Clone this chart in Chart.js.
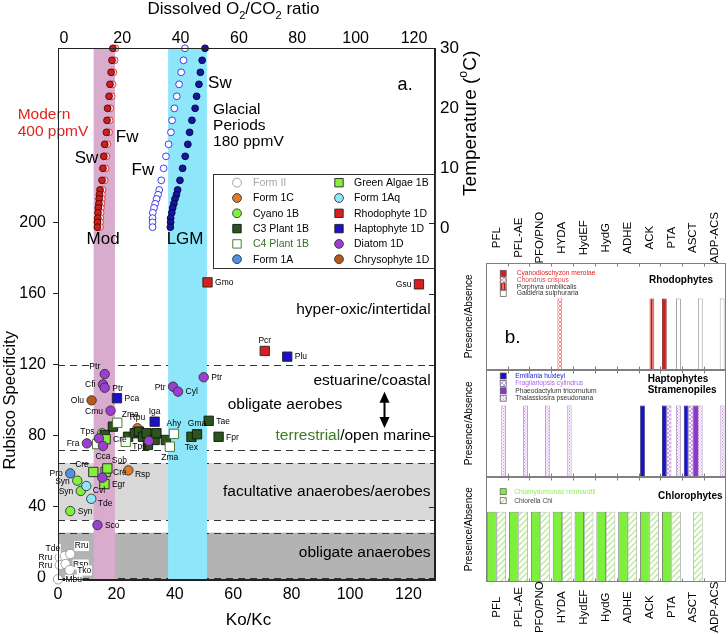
<!DOCTYPE html>
<html><head><meta charset="utf-8">
<script src="https://cdn.jsdelivr.net/npm/chart.js@4.4.1/dist/chart.umd.min.js"></script>
<style>
html,body{margin:0;padding:0;background:#fff;}
body{width:728px;height:634px;position:relative;overflow:hidden}
canvas{position:absolute;}
</style></head><body>
<canvas id="main" width="490" height="634" style="left:0;top:0"></canvas>
<canvas id="p1" width="273" height="190" style="left:455px;top:185px"></canvas>
<canvas id="p2" width="273" height="125" style="left:455px;top:360px"></canvas>
<canvas id="p3" width="273" height="169" style="left:455px;top:465px"></canvas>
<script>
const F='"Liberation Sans", Arial, Helvetica, sans-serif';
Chart.defaults.font.family=F;
Chart.defaults.color='#000';

// ================= panel a data =================
const koKcTicks=[0,20,40,60,80,100,120];
const specTicks=[0,40,80,120,160,200];
const ratioTicks=[0,20,40,60,80,100,120];
const tempTicks=[0,10,20,30];

// temperature profiles (dissolved O2/CO2 ratio vs temperature)
const tempC=[30,28,26,24,22,20,18,16,14,12,10,8,6.4,5.6,4.9,4.1,3.4,2.6,1.7,1.0,0.2];
const modernSw=[16.8,16.5,16.2,15.8,15.5,15.0,14.8,14.6,14.0,13.7,13.4,13.1,12.4,12.2,12.1,12.0,11.8,11.7,11.6,11.5,11.5];
const modernFw=[17.7,17.4,17.0,16.7,16.4,15.9,15.7,15.5,14.9,14.6,14.3,14.0,13.3,13.1,13.0,12.9,12.7,12.6,12.5,12.4,12.4];
const glacialFw=[41.5,41.0,40.2,39.5,38.7,37.9,37.1,36.7,35.9,35.0,34.2,33.4,32.7,32.3,31.8,31.3,30.9,30.5,30.4,30.4,30.4];
const glacialSw=[48.4,47.4,46.8,46.3,45.5,45.0,43.9,43.1,42.5,41.6,40.7,39.8,39.0,38.6,38.1,37.7,37.3,37.0,36.6,36.6,36.5];

// habitat zones (Rubisco specificity) and bands (Ko/Kc)
const darkZone=[-1.1,25.5];
const lightZone=[32.6,64.7];
const dashLevels=[0,25.5,32.6,64.7,72.0,120];
const modBand=[12.2,19.5];
const lgmBand=[37.7,51.0];

// Rubisco groups: Ko/Kc (x), specificity (y), labels
const formII_x=[0.6,2.3,4.2,0.6,2.6,4.0,0.0];
const formII_y=[11.7,12.4,13.5,7.3,7.9,4.5,-0.7];
const formII_lbl=['Rru','Tde','Rru','Rru','Rsp','Tko','Mbu'];
const form1C_x=[24.1,27.2];
const form1C_y=[60.6,84.3];
const form1C_lbl=['Rsp','Rpu'];
const cyano_x=[6.6,7.8,4.2,15.1];
const cyano_y=[54.8,49.0,37.7,81.5];
const cyano_lbl=['Syn','Syn','Syn',''];
const c3_x=[18.8,16.0,24.0,26.3,27.7,29.1,30.3,30.8,33.1,33.7,36.9,45.7,47.6,51.6,55.0];
const c3_y=[85.2,80.5,79.5,81.5,82.4,79.5,81.5,74.9,77.7,81.5,77.7,79.5,80.9,88.5,79.5];
const c3_lbl=['','','','','','','','','','','','Tex','Gma','Tae','Fpr'];
const c4_x=[20.3,23.2,13.4,38.3,39.7];
const c4_y=[87.4,76.7,75.4,73.9,81.1];
const c4_lbl=['Zma','Tps','','Zma','Ahy'];
const form1A_x=[4.2];
const form1A_y=[58.9];
const form1A_lbl=['Pro'];
const green_x=[12.1,16.3,16.9,15.9,16.3];
const green_y=[59.7,59.7,61.7,52.9,78.1];
const green_lbl=['Cre','Cre','Sob','Egr','Cre'];
const form1Aq_x=[9.7,11.4];
const form1Aq_y=[51.8,44.6];
const form1Aq_lbl=['Cvl','Tde'];
const rhodo_x=[51.2,123.6,70.8];
const rhodo_y=[166.4,165.3,127.8];
const rhodo_lbl=['Gmo','Gsu','Pcr'];
const hapto_x=[78.5,20.2,33.1];
const hapto_y=[124.6,101.2,88.0];
const hapto_lbl=['Plu','Pca','Iga'];
const diatom_x=[16.0,15.4,16.0,18.0,39.4,41.1,49.9,14.0,9.9,15.4,31.1,15.2,13.5];
const diatom_y=[114.8,109.0,107.1,94.2,107.7,104.9,113.0,78.6,75.8,74.3,77.1,56.5,29.8];
const diatom_lbl=['Ptr','Cfi','Ptr','Cmu','Ptr','Cyl','Ptr','Tps','Fra','Cca','','','Sco'];
const chryso_x=[11.5];
const chryso_y=[100.0];
const chryso_lbl=['Olu'];

// label placement (kept apart from the data)
const formII_pos=['l','tl','tr','l','r','r','r'];
const form1C_pos=['br','t'];
const cyano_pos=['l','l','r',''];
const c3_pos=['','','','','','','','','','','','b','t','r','r'];
const c4_pos=['tr','br','','b','t'];
const form1A_pos=['l'];
const green_pos=['tl','r','tr','r','r'];
const form1Aq_pos=['br','br'];
const rhodo_pos=['r','l','t'];
const hapto_pos=['r','r','t'];
const diatom_pos=['tl','l','r','l','l','r','r','tl','l','b','','','r'];
const chryso_pos=['l'];

const groups=[
 {name:'Form II',x:formII_x,y:formII_y,lbl:formII_lbl,pos:formII_pos,shape:'circle',fill:'#ffffff',stroke:'#9a9a9a',text:'#a8a8a8',lblBg:true},
 {name:'Form 1C',x:form1C_x,y:form1C_y,lbl:form1C_lbl,pos:form1C_pos,shape:'circle',fill:'#e07b2a',stroke:'#333'},
 {name:'Cyano 1B',x:cyano_x,y:cyano_y,lbl:cyano_lbl,pos:cyano_pos,shape:'circle',fill:'#82f03e',stroke:'#333'},
 {name:'C3 Plant 1B',x:c3_x,y:c3_y,lbl:c3_lbl,pos:c3_pos,shape:'rect',fill:'#2b551b',stroke:'#111'},
 {name:'C4 Plant 1B',x:c4_x,y:c4_y,lbl:c4_lbl,pos:c4_pos,shape:'rect',fill:'#ffffff',stroke:'#3b6e22',text:'#3b6e22'},
 {name:'Form 1A',x:form1A_x,y:form1A_y,lbl:form1A_lbl,pos:form1A_pos,shape:'circle',fill:'#4f92e0',stroke:'#333'},
 {name:'Green Algae 1B',x:green_x,y:green_y,lbl:green_lbl,pos:green_pos,shape:'rect',fill:'#84f03a',stroke:'#222'},
 {name:'Form 1Aq',x:form1Aq_x,y:form1Aq_y,lbl:form1Aq_lbl,pos:form1Aq_pos,shape:'circle',fill:'#8fe6f8',stroke:'#333'},
 {name:'Rhodophyte 1D',x:rhodo_x,y:rhodo_y,lbl:rhodo_lbl,pos:rhodo_pos,shape:'rect',fill:'#d81f1f',stroke:'#222'},
 {name:'Haptophyte 1D',x:hapto_x,y:hapto_y,lbl:hapto_lbl,pos:hapto_pos,shape:'rect',fill:'#1c10c8',stroke:'#222'},
 {name:'Diatom 1D',x:diatom_x,y:diatom_y,lbl:diatom_lbl,pos:diatom_pos,shape:'circle',fill:'#9a3fd2',stroke:'#333'},
 {name:'Chrysophyte 1D',x:chryso_x,y:chryso_y,lbl:chryso_lbl,pos:chryso_pos,shape:'circle',fill:'#b55a18',stroke:'#333'}
];

const annotations=[
 {t:'Modern',x:-13.8,y:260.6,size:15.5,color:'#e3241f'},
 {t:'400 ppmV',x:-13.8,y:251.3,size:15.5,color:'#e3241f'},
 {t:'Fw',x:19.8,y:248.2,size:17},
 {t:'Sw',x:5.7,y:236.4,size:17},
 {t:'Fw',x:25.2,y:229.7,size:17},
 {t:'Sw',x:51.4,y:278.6,size:17},
 {t:'Glacial',x:53.1,y:263.4,size:15.5},
 {t:'Periods',x:53.1,y:254.5,size:15.5},
 {t:'180 ppmV',x:53.1,y:245.6,size:15.5},
 {t:'a.',x:116.3,y:277.5,size:18},
 {t:'Mod',x:9.8,y:190.8,size:17},
 {t:'LGM',x:37.2,y:190.8,size:17},
 {t:'hyper-oxic/intertidal',x:127.6,y:150.8,size:15.5,align:'right'},
 {t:'estuarine/coastal',x:127.6,y:110.9,size:15.5,align:'right'},
 {t:'obligate aerobes',x:58.1,y:97.3,size:15.5},
 {t:'facultative anaerobes/aerobes',x:127.6,y:48.4,size:15.5,align:'right'},
 {t:'obligate anaerobes',x:127.6,y:14.0,size:15.5,align:'right'}
];
const terrNote={x:127.6,y:79.9,size:15.5};
const arrowNote={x:111.5,y0:84.4,y1:104.9};

// ================= panel b data =================
const genes=['PFL','PFL-AE','PFO/PNO','HYDA','HydEF','HydG','ADHE','ACK','PTA','ASCT','ADP-ACS'];
const cyanidioschyzon=[0,0,0,0,0,0,0,0,1,0,0];
const chondrus=[0,0,0,1,0,0,0,0,0,0,0];
const porphyra=[0,0,0,0,0,0,0,1,0,0,0];
const galdieria=[0,0,0,0,0,0,0,0,1,1,1];
const emiliania=[0,0,0,0,0,0,0,1,1,1,0];
const fragilariopsis=[0,0,0,0,0,0,0,0,1,1,0];
const phaeodactylum=[0,0,0,0,0,0,0,0,0,1,0];
const thalassiosira=[1,1,1,1,0,0,0,0,1,1,1];
const chlamydomonas=[1,1,1,1,1,1,1,1,1,0,0];
const chlorella=[1,1,1,1,1,1,1,1,1,1,0];

// ================= helpers =================
function richText(ctx,parts,x,y,size,align){
  let w=0;
  parts.forEach(p=>{ctx.font=((p.s||p.u)?size*0.65:size)+'px '+F;w+=ctx.measureText(p.t).width;});
  let cx=align==='center'?x-w/2:x;
  ctx.textAlign='left';ctx.textBaseline='middle';
  parts.forEach(p=>{const sm=p.s||p.u;ctx.font=(sm?size*0.65:size)+'px '+F;
    const dy=p.s?size*0.38:(p.u?-size*0.38:0);ctx.fillText(p.t,cx,y+dy);cx+=ctx.measureText(p.t).width;});
}
function drawMarker(ctx,shape,x,y,r,fill,stroke){
  ctx.beginPath();
  if(shape==='rect'){ctx.rect(x-r,y-r,2*r,2*r);} else {ctx.arc(x,y,r,0,Math.PI*2);}
  ctx.fillStyle=fill;ctx.fill();ctx.lineWidth=0.9;ctx.strokeStyle=stroke;ctx.stroke();
}
const OFF={r:[7.5,0.5,'left'],l:[-7.5,0.5,'right'],t:[0,-10.5,'center'],b:[0,10.5,'center'],
  tl:[-4.5,-7,'right'],tr:[4.5,-8,'left'],br:[6.5,4.5,'left']};

// ================= main chart =================
const datasets=[];
function tempSet(vals,fill,stroke){
  return {data:tempC.map((t,i)=>({x:vals[i],y:t})),xAxisID:'x2',yAxisID:'y2',pointRadius:3.4,
    pointBackgroundColor:fill,pointBorderColor:stroke,pointBorderWidth:0.9,showLine:false,clip:false};
}
datasets.push(tempSet(modernFw,'#fbe3e3','#e42a2a'));
datasets.push(tempSet(modernSw,'#cc2020','#4a0606'));
datasets.push(tempSet(glacialFw,'#ffffff','#2a2af0'));
datasets.push(tempSet(glacialSw,'#15159e','#05053a'));
groups.forEach(g=>{
  datasets.push({data:g.x.map((v,i)=>({x:v,y:g.y[i]})),xAxisID:'x',yAxisID:'y',
    pointStyle:g.shape==='rect'?'rect':'circle',pointRadius:g.shape==='rect'?6.6:4.7,
    pointBackgroundColor:g.fill,pointBorderColor:g.stroke,pointBorderWidth:0.9,showLine:false,clip:false});
});
datasets.forEach((d,i)=>{d.order=1000-i;});

const mainPlugin={
  id:'mainDeco',
  beforeDatasetsDraw(chart){
    const {ctx,chartArea:ca,scales:{x,y}}=chart;
    ctx.save();
    const w=ca.right-ca.left;
    let a=y.getPixelForValue(darkZone[1]),b=y.getPixelForValue(darkZone[0]);
    ctx.fillStyle='#b3b3b3';ctx.fillRect(ca.left,a,w,ca.bottom-a);
    a=y.getPixelForValue(lightZone[1]);b=y.getPixelForValue(lightZone[0]);
    ctx.fillStyle='#d9d9d9';ctx.fillRect(ca.left,a,w,b-a);
    ctx.strokeStyle='#333';ctx.lineWidth=1;ctx.setLineDash([7,5]);
    dashLevels.forEach(v=>{const py=Math.round(y.getPixelForValue(v))+0.5;ctx.beginPath();ctx.moveTo(ca.left,py);ctx.lineTo(ca.right,py);ctx.stroke();});
    ctx.setLineDash([]);
    [[modBand,'#d9abcc'],[lgmBand,'#8ee6fa']].forEach(([bd,c])=>{
      const x0=x.getPixelForValue(bd[0]),x1=x.getPixelForValue(bd[1]);
      ctx.fillStyle=c;ctx.fillRect(x0,ca.top,x1-x0,ca.bottom-ca.top);
    });
    ctx.restore();
  },
  afterDatasetsDraw(chart){
    const {ctx,chartArea:ca,scales:{x,y,y2}}=chart;
    ctx.save();
    // point labels
    ctx.font='8.5px '+F;ctx.textBaseline='middle';
    groups.forEach((g,gi)=>{
      const meta=chart.getDatasetMeta(4+gi);
      g.lbl.forEach((l,i)=>{
        if(!l)return;const el=meta.data[i];const o=OFF[g.pos[i]]||OFF.r;
        const tx=el.x+o[0],ty=el.y+o[1];ctx.textAlign=o[2];
        if(g.lblBg){const tw=ctx.measureText(l).width;let lx=o[2]==='left'?tx:(o[2]==='right'?tx-tw:tx-tw/2);
          ctx.fillStyle='#fff';ctx.fillRect(lx-0.5,ty-5,tw+1,10);}
        ctx.fillStyle='#000';ctx.fillText(l,tx,ty);
      });
    });
    // annotations
    annotations.forEach(a=>{
      ctx.font=a.size+'px '+F;ctx.fillStyle=a.color||'#000';ctx.textAlign=a.align||'left';ctx.textBaseline='middle';
      ctx.fillText(a.t,x.getPixelForValue(a.x),y.getPixelForValue(a.y));
    });
    // terrestrial/open marine
    {ctx.font=terrNote.size+'px '+F;ctx.textBaseline='middle';ctx.textAlign='right';
     const rx=x.getPixelForValue(terrNote.x),ry=y.getPixelForValue(terrNote.y);
     ctx.fillStyle='#000';ctx.fillText('/open marine',rx,ry);
     const w1=ctx.measureText('/open marine').width;ctx.fillStyle='#3d7a22';ctx.fillText('terrestrial',rx-w1,ry);}
    // double arrow
    {const ax=Math.round(x.getPixelForValue(arrowNote.x))+0.5,a0=y.getPixelForValue(arrowNote.y0),a1=y.getPixelForValue(arrowNote.y1);
     ctx.strokeStyle='#000';ctx.lineWidth=2;ctx.beginPath();ctx.moveTo(ax,a0-8);ctx.lineTo(ax,a1+8);ctx.stroke();
     ctx.fillStyle='#000';ctx.beginPath();ctx.moveTo(ax,a1);ctx.lineTo(ax-5,a1+11);ctx.lineTo(ax+5,a1+11);ctx.closePath();ctx.fill();
     ctx.beginPath();ctx.moveTo(ax,a0);ctx.lineTo(ax-5,a0-11);ctx.lineTo(ax+5,a0-11);ctx.closePath();ctx.fill();}
    // legend
    {const L={x0:ca.left+155,y0:ca.top+126,x1:ca.right,y1:ca.top+220};
     ctx.fillStyle='#fff';ctx.fillRect(L.x0,L.y0,L.x1-L.x0,L.y1-L.y0);
     ctx.strokeStyle='#333';ctx.lineWidth=1;ctx.strokeRect(Math.round(L.x0)+0.5,Math.round(L.y0)+0.5,Math.round(L.x1-L.x0),Math.round(L.y1-L.y0));
     groups.forEach((g,i)=>{const col=Math.floor(i/6),row=i%6;const my=L.y0+8.7+row*15.3;
       drawMarker(ctx,g.shape,L.x0+(col?126:24),my,g.shape==='rect'?4.2:4.4,g.fill,g.stroke);
       ctx.font='10.5px '+F;ctx.fillStyle=g.text||'#000';ctx.textAlign='left';ctx.textBaseline='middle';
       ctx.fillText(g.name,L.x0+(col?141:40),my+0.5);});}
    // frame + right inward ticks
    ctx.strokeStyle='#222';ctx.lineWidth=1;
    ctx.strokeRect(Math.round(ca.left)+0.5,Math.round(ca.top)+0.5,Math.round(ca.right-ca.left)-1,Math.round(ca.bottom-ca.top)-1);
    ctx.beginPath();specTicks.forEach(v=>{const py=Math.round(y.getPixelForValue(v))+0.5;ctx.moveTo(ca.right-6,py);ctx.lineTo(ca.right,py);});ctx.stroke();
    // axis titles
    ctx.fillStyle='#000';
    ctx.font='17px '+F;ctx.textAlign='center';ctx.textBaseline='middle';
    ctx.fillText('Ko/Kc',(ca.left+ca.right)/2+2,620);
    richText(ctx,[{t:'Dissolved O'},{t:'2',s:1},{t:'/CO'},{t:'2',s:1},{t:' ratio'}],(ca.left+ca.right)/2-13,9,17,'center');
    ctx.save();ctx.translate(10,y.getPixelForValue(100));ctx.rotate(-Math.PI/2);
    ctx.font='16.5px '+F;ctx.textAlign='center';ctx.fillText('Rubisco Specificity',0,0);ctx.restore();
    ctx.save();ctx.translate(471,y2.getPixelForValue(17.5));ctx.rotate(-Math.PI/2);
    richText(ctx,[{t:'Temperature ('},{t:'o',u:1},{t:'C)'}],0,0,19,'center');ctx.restore();
    ctx.restore();
  }
};

const tickFont={size:16,family:F};
new Chart(document.getElementById('main'),{
  type:'scatter',
  data:{datasets},
  options:{responsive:false,animation:false,events:[],layout:{padding:0},
    plugins:{legend:{display:false},tooltip:{enabled:false}},
    scales:{
      x:{type:'linear',position:'bottom',min:0,max:129.1,
        afterBuildTicks:s=>{s.ticks=koKcTicks.map(v=>({value:v}));},afterFit:s=>{s.height=54;},
        grid:{display:false,drawTicks:false},border:{display:true,color:'#222'},
        ticks:{font:tickFont,color:'#000',padding:5,maxRotation:0,autoSkip:false}},
      x2:{type:'linear',position:'top',min:-2.0,max:127.2,
        afterBuildTicks:s=>{s.ticks=ratioTicks.map(v=>({value:v}));},afterFit:s=>{s.height=48;},
        grid:{display:false,drawTicks:false},border:{display:true,color:'#222'},
        ticks:{font:tickFont,color:'#000',padding:0,maxRotation:0,autoSkip:false}},
      y:{type:'linear',position:'left',min:-1.1,max:298.3,
        afterBuildTicks:s=>{s.ticks=specTicks.map(v=>({value:v}));},afterFit:s=>{s.width=58;},
        grid:{display:true,drawOnChartArea:false,drawTicks:true,tickLength:5,color:'#222'},border:{display:true,color:'#222'},
        ticks:{font:tickFont,color:'#000',padding:7,autoSkip:false}},
      y2:{type:'linear',position:'right',min:-58.6,max:30.05,
        afterBuildTicks:s=>{s.ticks=tempTicks.map(v=>({value:v}));},afterFit:s=>{s.width=55;},
        grid:{display:false,drawTicks:false},border:{display:true,color:'#222'},
        ticks:{font:{size:17,family:F},color:'#000',padding:5,autoSkip:false}}
    }},
  plugins:[mainPlugin]
});

// ================= panel b =================
function mkPattern(w,h,draw){const c=document.createElement('canvas');c.width=w;c.height=h;const g=c.getContext('2d');draw(g,w,h);return g.createPattern(c,'repeat');}
const checker=(a,b)=>mkPattern(4,4,(g)=>{g.fillStyle=b;g.fillRect(0,0,4,4);g.fillStyle=a;g.fillRect(0,0,2,2);g.fillRect(2,2,2,2);});
const hatch=(bg,ln)=>mkPattern(6,6,(g)=>{g.fillStyle=bg;g.fillRect(0,0,6,6);g.strokeStyle=ln;g.lineWidth=1.3;g.beginPath();g.moveTo(0,6);g.lineTo(6,0);g.moveTo(-1,1);g.lineTo(1,-1);g.moveTo(5,7);g.lineTo(7,5);g.stroke();});
const vstripe=(a,b)=>mkPattern(3,3,(g)=>{g.fillStyle=a;g.fillRect(0,0,3,3);g.fillStyle=b;g.fillRect(1,0,1,3);});
const dots=(a,b)=>mkPattern(3,3,(g)=>{g.fillStyle=b;g.fillRect(0,0,3,3);g.fillStyle=a;g.fillRect(0,0,1,1);g.fillRect(1.5,1.5,1,1);});

const rhodoSets=[
 {name:'Cyanodioschyzon merolae',v:cyanidioschyzon,fill:'#d41e1e',stroke:'#6a1010',text:'#e02020'},
 {name:'Chondrus crispus',v:chondrus,fill:checker('#f08c8c','#ffffff'),stroke:'#c05050',text:'#e04848'},
 {name:'Porphyra umbilicalis',v:porphyra,fill:vstripe('#ee7070','#b01818'),stroke:'#8a2020',text:'#333'},
 {name:'Galdieria sulphuraria',v:galdieria,fill:'#ffffff',stroke:'#777',text:'#333'}
];
const haptoSets=[
 {name:'Emiliania huxleyi',v:emiliania,fill:'#1a0fcc',stroke:'#101060',text:'#2222d0'},
 {name:'Fragilariopsis cylindrus',v:fragilariopsis,fill:checker('#d7a0ee','#ffffff'),stroke:'#9a70b0',text:'#b060e6'},
 {name:'Phaeodactylum tricornutum',v:phaeodactylum,fill:'#8a36c8',stroke:'#402060',text:'#333'},
 {name:'Thalassiosira pseudonana',v:thalassiosira,fill:dots('#c890e0','#fbf2ff'),stroke:'#9a80b0',text:'#333'}
];
const chloroSets=[
 {name:'Chlamydomonas reinhardtii',v:chlamydomonas,fill:'#7cf03a',stroke:'#555',text:'#8ef05a'},
 {name:'Chlorella Chl',v:chlorella,fill:hatch('#ffffff','#b4ec8c'),stroke:'#999',text:'#444'}
];

function panelDeco(o,sets){
  return {id:'deco',afterDatasetsDraw(chart){
    const {ctx,chartArea:ca,scales:{x}}=chart;
    ctx.save();
    ctx.strokeStyle='#808080';ctx.lineWidth=1;
    const L=Math.round(ca.left)+0.5,T=Math.round(ca.top)+0.5,R=Math.round(ca.right)-0.5,B=Math.round(ca.bottom)-0.5;
    ctx.strokeRect(L,T,R-L,B-T);
    ctx.beginPath();
    for(let i=0;i<genes.length-1;i++){const bx=Math.round((x.getPixelForValue(i)+x.getPixelForValue(i+1))/2)+0.5;
      ctx.moveTo(bx,B);ctx.lineTo(bx,B-3);ctx.moveTo(bx,T);ctx.lineTo(bx,T+3);}
    ctx.stroke();
    sets.forEach((s,i)=>{const yy=ca.top+o.legTop+i*o.legStep;
      ctx.fillStyle=s.fill;ctx.fillRect(ca.left+14.5,yy-3,6,6);ctx.strokeStyle='#555';ctx.lineWidth=0.7;ctx.strokeRect(ca.left+14.5,yy-3,6,6);
      ctx.fillStyle=s.text;ctx.font=o.legFont+'px '+F;ctx.textAlign='left';ctx.textBaseline='middle';ctx.fillText(s.name,ca.left+o.legText,yy);});
    ctx.fillStyle='#000';ctx.font='bold 10px '+F;ctx.textBaseline='middle';
    o.title.forEach(t=>{ctx.textAlign=t.align;ctx.fillText(t.t,t.align==='right'?ca.right-t.dx:ca.left+t.dx,ca.top+t.dy);});
    ctx.save();ctx.translate(ca.left-16.5,(ca.top+ca.bottom)/2);ctx.rotate(-Math.PI/2);
    ctx.font='10px '+F;ctx.textAlign='center';ctx.fillStyle='#000';ctx.fillText('Presence/Absence',0,0);ctx.restore();
    if(o.labels){ctx.font='11.5px '+F;ctx.fillStyle='#000';
      genes.forEach((gn,i)=>{const px=x.getPixelForValue(i);const py=o.labels==='top'?ca.top-25:ca.bottom+25.5;
        ctx.save();ctx.translate(px,py);ctx.rotate(-Math.PI/2);ctx.textAlign='center';ctx.textBaseline='middle';ctx.fillText(gn,0,0);ctx.restore();});}
    if(o.tag){ctx.font='19px '+F;ctx.fillStyle='#000';ctx.textAlign='left';ctx.textBaseline='middle';ctx.fillText(o.tag,ca.left+19,ca.top+75);}
    ctx.restore();
  }};
}
function makePanel(id,sets,o){
  new Chart(document.getElementById(id),{type:'bar',
    data:{labels:genes,datasets:sets.map(s=>({data:s.v.map(v=>v?v:null),backgroundColor:s.fill,borderColor:s.stroke,borderWidth:0.8,borderSkipped:false,categoryPercentage:0.86,barPercentage:1}))},
    options:{responsive:false,animation:false,events:[],layout:{padding:o.pad},
      plugins:{legend:{display:false},tooltip:{enabled:false}},
      scales:{x:{display:false},y:{display:false,min:0,max:1.5}}},
    plugins:[panelDeco(o,sets)]});
}
makePanel('p1',rhodoSets,{pad:{left:30.7,right:2,top:77.7,bottom:5},legTop:10.6,legStep:6.7,legFont:6.7,legText:31,labels:'top',tag:'b.',
  title:[{t:'Rhodophytes',align:'right',dx:13,dy:17.3}]});
makePanel('p2',haptoSets,{pad:{left:30.7,right:2,top:10,bottom:8.3},legTop:6,legStep:7.4,legFont:6.7,legText:29.5,
  title:[{t:'Haptophytes',align:'left',dx:162,dy:9},{t:'Stramenopiles',align:'left',dx:162,dy:20}]});
makePanel('p3',chloroSets,{pad:{left:30.7,right:2,top:11.7,bottom:52.3},legTop:15,legStep:9,legFont:6.7,legText:28.5,labels:'bottom',
  title:[{t:'Chlorophytes',align:'right',dx:3.5,dy:20}]});
</script></body></html>
